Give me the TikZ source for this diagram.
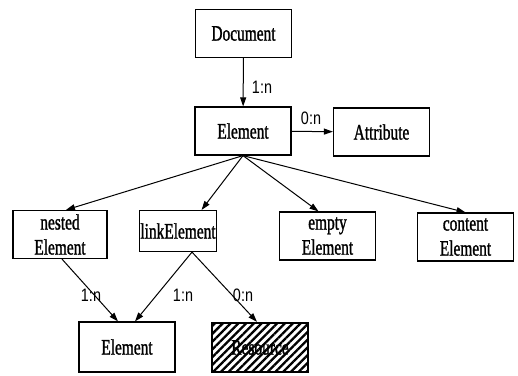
\documentclass[tikz,border=0pt]{standalone}
\usepackage{fontspec}
\newfontfamily\boxfont{Liberation Serif}[FakeStretch=0.7,FakeBold=1.2]
\newfontfamily\lblfont{Liberation Sans}[FakeStretch=0.8]
\usetikzlibrary{arrows.meta,patterns.meta,calc}
\begin{document}
\begin{tikzpicture}[x=1pt,y=-1pt,
  box/.style={draw,line width=1.2pt,minimum width=96pt,minimum height=48pt,inner sep=1pt,align=center,
    font=\boxfont\fontsize{22}{25}\selectfont},
  conn/.style={line width=1pt,-{Triangle[length=9pt,width=6pt]}},
  lbl/.style={font=\lblfont\fontsize{18}{20}\selectfont,inner sep=0pt}]
\useasboundingbox (0,0) rectangle (518,375);
\node[box] (doc) at (243.5,33.5) {Document};
\node[box] (el) at (243,131) {Element};
\node[box] (attr) at (381.5,132) {Attribute};
\node[box,minimum width=94pt] (nested) at (60,234.5) {nested\\Element};
\node[box,minimum width=64pt,minimum height=41pt] (link) at (178,231) {linkElement};
\node[box] (empty) at (327.5,236) {empty\\Element};
\node[box] (content) at (465.5,237) {content\\Element};
\node[box,minimum height=50pt] (el2) at (127,347) {Element};
\node[box,minimum height=49pt,pattern={Lines[angle=45,distance=5.5pt,line width=2.3pt]}] (res) at (260,347.5) {Resource};

\draw[conn] (doc) -- (el);
\draw[conn] (el) -- (attr);
\draw[conn] (el.south) -- ($(nested.north)+(6,0)$);
\draw[conn] (el.south) -- ($(link.north)!0.6!(link.north east)$);
\draw[conn] (el.south) -- ($(empty.north)+(-9,0)$);
\draw[conn] (el.south) -- (content.north);
\draw[conn] ($(nested.south)+(2,0)$) -- ($(el2.north)+(-9,0)$);
\draw[conn] ($(link.south)+(14,0)$) -- ($(el2.north)+(8,0)$);
\draw[conn] ($(link.south)+(14,0)$) -- ($(res.north)+(-3,0)$);

\node[lbl] (l1) at (262,87) {1:n};
\node[lbl] (l2) at (311,118) {0:n};
\node[lbl] (l3) at (91,295) {1:n};
\node[lbl] (l4) at (183,295) {1:n};
\node[lbl] (l5) at (243,295) {0:n};
\end{tikzpicture}
\end{document}
